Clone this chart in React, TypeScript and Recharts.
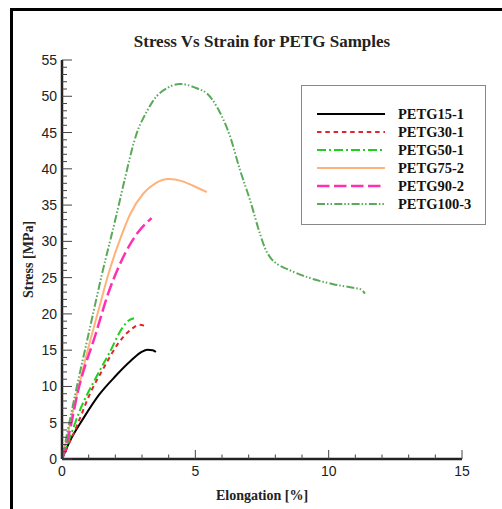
import React from 'react';
import { LineChart, Line, XAxis, YAxis, Legend } from 'recharts';

const seriesNames = ['PETG15-1', 'PETG30-1', 'PETG50-1', 'PETG75-2', 'PETG90-2', 'PETG100-3'];

const petg15X = [0, 0.3, 0.8, 1.4, 2.0, 2.6, 3.0, 3.2, 3.4, 3.52];
const petg15Y = [0, 2.5, 5.6, 8.9, 11.4, 13.6, 14.8, 15.05, 15.0, 14.75];

const petg30X = [0, 0.25, 0.55, 1.05, 1.6, 2.1, 2.6, 2.9, 3.18];
const petg30Y = [0, 2.0, 4.5, 9.0, 12.8, 15.9, 17.9, 18.5, 18.25];

const petg50X = [0, 0.3, 0.67, 1.3, 1.8, 2.25, 2.5, 2.7];
const petg50Y = [0, 3.0, 6.7, 11.4, 14.8, 18.0, 19.1, 19.4];

const petg75X = [0, 0.5, 1.0, 1.42, 1.74, 2.17, 2.55, 3.05, 3.5, 4.0, 4.5, 4.9, 5.43];
const petg75Y = [0, 8.0, 15.5, 21.2, 25.5, 30.2, 33.7, 36.6, 38.0, 38.6, 38.3, 37.7, 36.8];

const petg90X = [0, 0.24, 0.61, 1.27, 1.74, 2.24, 2.86, 3.36];
const petg90Y = [0, 3.1, 9.5, 17.3, 22.9, 27.4, 31.3, 33.2];

const petg100X = [0, 0.5, 1.0, 1.5, 2.0, 2.35, 2.67, 2.85, 3.05, 3.55, 3.93, 4.42, 5.05, 5.43, 5.8, 6.05, 6.3, 6.67, 7.05, 7.42, 7.62, 7.85, 8.1, 8.43, 9.17, 10.17, 10.92, 11.2, 11.36];
const petg100Y = [0, 9.0, 17.3, 25.5, 33.0, 38.5, 43.3, 45.4, 47.0, 50.0, 51.1, 51.7, 51.1, 50.4, 48.6, 46.8, 44.5, 39.9, 35.7, 31.1, 29.0, 27.6, 26.8, 26.2, 25.1, 24.1, 23.6, 23.4, 22.8];

const xTicks = [0, 1, 2, 3, 4, 5, 6, 7, 8, 9, 10, 11, 12, 13, 14, 15];
const yTicks = Array.from({ length: 56 }, (_, i) => i);

const build = (xs: number[], ys: number[]) => xs.map((x, i) => ({ x, y: ys[i] }));

const styles = [
  { color: '#000000', dash: undefined as string | undefined, width: 2 },
  { color: '#e0262c', dash: '4.5 3.8', width: 2 },
  { color: '#1fd01f', dash: '9 3 2 3', width: 2 },
  { color: '#ffb27a', dash: undefined, width: 2 },
  { color: '#ff2fb4', dash: '12.5 4.5', width: 2.5 },
  { color: '#5aaa5a', dash: '8 2 1.5 2 1.5 2.3', width: 2 },
];

const seriesData = [
  build(petg15X, petg15Y),
  build(petg30X, petg30Y),
  build(petg50X, petg50Y),
  build(petg75X, petg75Y),
  build(petg90X, petg90Y),
  build(petg100X, petg100Y),
];

const YTick = (props: any) => {
  const { x, y, payload } = props;
  const v = payload.value;
  const major = v % 5 === 0;
  return (
    <g>
      <line x1={x} x2={x + (major ? 10 : 5)} y1={y} y2={y} stroke="#444" strokeWidth={1} />
      {major && (
        <text x={x - 5} y={y} dy={5} textAnchor="end" fontFamily="'Liberation Sans', Arial, sans-serif" fontSize={14} fill="#222">
          {v}
        </text>
      )}
    </g>
  );
};

const XTick = (props: any) => {
  const { x, y, payload } = props;
  const v = payload.value;
  const major = v % 5 === 0;
  return (
    <g>
      <line x1={x} x2={x} y1={y} y2={y - (major ? 9 : 4.5)} stroke="#444" strokeWidth={1} />
      {major && (
        <text x={x} y={y + 17} textAnchor="middle" fontFamily="'Liberation Sans', Arial, sans-serif" fontSize={14} fill="#222">
          {v}
        </text>
      )}
    </g>
  );
};

const XTitle = (props: any) => {
  const vb = props.viewBox;
  return (
    <text x={vb.x + vb.width / 2} y={vb.y + 41} textAnchor="middle" fontFamily="'Liberation Serif', 'Times New Roman', serif" fontWeight="bold" fontSize={14} fill="#222">
      Elongation [%]
    </text>
  );
};

const YTitle = (props: any) => {
  const vb = props.viewBox;
  const cx = vb.x + vb.width - 34;
  const cy = vb.y + vb.height / 2;
  return (
    <text x={cx} y={cy} transform={`rotate(-90 ${cx} ${cy})`} textAnchor="middle" dominantBaseline="central" fontFamily="'Liberation Serif', 'Times New Roman', serif" fontWeight="bold" fontSize={14} fill="#222">
      Stress [MPa]
    </text>
  );
};

const LegendBox = () => (
  <div style={{ width: 185, height: 140, border: '1px solid #888', boxSizing: 'border-box', background: '#fff', position: 'relative' }}>
    {seriesNames.map((name, i) => (
      <div key={name} style={{ position: 'absolute', left: 15, top: 19 + i * 18, height: 18, display: 'flex', alignItems: 'center' }}>
        <svg width={68} height={6} style={{ display: 'block' }}>
          <line x1={0} x2={68} y1={3} y2={3} stroke={styles[i].color} strokeWidth={styles[i].width} strokeDasharray={styles[i].dash} />
        </svg>
        <span style={{ marginLeft: 13, fontFamily: "'Liberation Serif', 'Times New Roman', serif", fontWeight: 'bold', fontSize: 14.5, color: '#111', lineHeight: '18px' }}>
          {name}
        </span>
      </div>
    ))}
  </div>
);

export default function App() {
  return (
    <div style={{ position: 'absolute', left: 0, top: 0, width: 502, height: 509, overflow: 'hidden', background: '#fff' }}>
      <div style={{ position: 'absolute', left: 10, top: 8, width: 700, height: 700, border: '3px solid #000' }} />
      <svg width={502} height={70} style={{ position: 'absolute', left: 0, top: 0 }}>
        <text x={262} y={47} textAnchor="middle" fontFamily="'Liberation Serif', 'Times New Roman', serif" fontWeight="bold" fontSize={17} fill="#222">
          Stress Vs Strain for PETG Samples
        </text>
      </svg>
      <div style={{ position: 'absolute', left: 0, top: 0 }}>
        <LineChart width={502} height={509} margin={{ top: 60, right: 40, bottom: 49, left: 61 }}>
          <XAxis
            type="number"
            dataKey="x"
            domain={[0, 15]}
            ticks={xTicks}
            interval={0}
            allowDataOverflow
            height={1}
            tickSize={0}
            tickMargin={0}
            tick={<XTick />}
            axisLine={{ stroke: '#222', strokeWidth: 2.5 }}
            tickLine={false}
            label={XTitle}
          />
          <YAxis
            type="number"
            dataKey="y"
            domain={[0, 55]}
            ticks={yTicks}
            interval={0}
            allowDataOverflow
            width={1}
            tickSize={0}
            tickMargin={0}
            tick={<YTick />}
            axisLine={{ stroke: '#222', strokeWidth: 2.5 }}
            tickLine={false}
            label={YTitle}
          />
          <Legend
            layout="horizontal"
            verticalAlign="middle"
            align="center"
            content={<LegendBox />}
            wrapperStyle={{ position: 'absolute', left: 301, top: 85, width: 185, height: 140 }}
          />
          {seriesData.map((d, i) => (
            <Line
              key={seriesNames[i]}
              name={seriesNames[i]}
              data={d}
              dataKey="y"
              type="monotone"
              stroke={styles[i].color}
              strokeWidth={styles[i].width}
              strokeDasharray={styles[i].dash}
              dot={false}
              activeDot={false}
              isAnimationActive={false}
            />
          ))}
        </LineChart>
      </div>
    </div>
  );
}
